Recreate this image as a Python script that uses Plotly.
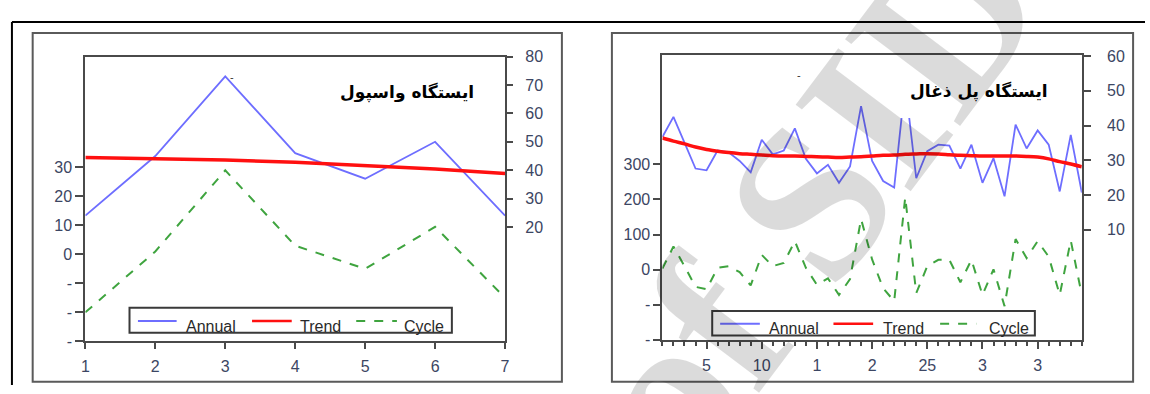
import plotly.graph_objects as go

W, H = 1150, 394

# Station 1 (Vaspool)
years_a = [1, 2, 3, 4, 5, 6, 7]
annual_a = [24, 45, 73, 46, 37, 50, 24]
trend_a = [44.5, 44.2, 43.6, 42.8, 41.6, 40.4, 38.8]
cycle_a = [-20, 1, 29, 3, -5, 9.5, -15]

# Station 2 (Pol-e Zoghal)
years_b = list(range(1, 40))
annual_b = [36.7, 42.5, 35.1, 27.6, 27.1, 32.8, 32.3, 29.8, 26.5, 35.9,
            31.7, 32.8, 39.2, 30.4, 26.2, 28.7, 23.5, 28.2, 45.6, 29.8,
            24.0, 22.1, 52.2, 24.8, 32.6, 34.5, 34.2, 27.6, 34.5, 23.5,
            30.6, 19.6, 40.3, 33.4, 38.6, 34.5, 21.0, 37.3, 20.7]
trend_b = [36.4, 35.5, 34.7, 33.8, 33.1, 32.6, 32.2, 31.9, 31.7, 31.5,
           31.3, 31.2, 31.2, 31.1, 31.0, 30.9, 30.8, 30.9, 31.0, 31.2,
           31.4, 31.5, 31.7, 31.8, 31.9, 31.8, 31.6, 31.4, 31.3, 31.2,
           31.2, 31.2, 31.2, 31.1, 30.9, 30.4, 29.6, 28.9, 28.1]
cycle_b = [3, 66, 10, -49, -56, 5, 10, -7, -45, 42,
           10, 19, 81, 5, -43, -25, -72, -27, 144, 29,
           -53, -90, 206, -67, 10, 28, 28, -36, 28, -72,
           1, -104, 87, 33, 81, 37, -72, 83, -72]

# Axis ticks
left_a_vals = [-30, -20, -10, 0, 10, 20, 30]
left_a_text = ["-", "-", "-", "0", "10", "20", "30"]
right_a_vals = [20, 30, 40, 50, 60, 70, 80]
left_b_vals = [-200, -100, 0, 100, 200, 300]
left_b_text = ["-", "-", "0", "100", "200", "300"]
right_b_vals = [10, 20, 30, 40, 50, 60]
x_b_vals = [5, 10, 15, 20, 25, 30, 35]
x_b_text = ["5", "10", "1", "2", "25", "3", "3"]

titles = ["ایستگاه واسپول", "ایستگاه پل ذغال"]
series_names = ["Annual", "Trend", "Cycle"]

BLUE = "#6e6eff"
RED = "#ff1010"
GREEN = "#3fa43f"
TICK_COLOR = "#3c4663"
FRAME = "#4a4a4a"
tick_font = dict(family="Liberation Sans", size=16, color=TICK_COLOR)


def px(x):
    return x / W


def py(y):
    return 1 - y / H


fig = go.Figure()

# Panel A traces
fig.add_trace(go.Scatter(x=years_a, y=cycle_a, name="Cycle", mode="lines",
                         line=dict(color=GREEN, width=2, dash="dash"),
                         xaxis="x", yaxis="y", showlegend=False))
fig.add_trace(go.Scatter(x=years_a, y=annual_a, name="Annual", mode="lines",
                         line=dict(color=BLUE, width=1.8),
                         xaxis="x", yaxis="y2", showlegend=False))
fig.add_trace(go.Scatter(x=years_a, y=trend_a, name="Trend", mode="lines",
                         line=dict(color=RED, width=3.5),
                         xaxis="x", yaxis="y2", showlegend=False))

# Panel B traces
fig.add_trace(go.Scatter(x=years_b, y=cycle_b, name="Cycle", mode="lines",
                         line=dict(color=GREEN, width=2, dash="dash"),
                         xaxis="x2", yaxis="y3", showlegend=False))
fig.add_trace(go.Scatter(x=years_b, y=annual_b, name="Annual", mode="lines",
                         line=dict(color=BLUE, width=1.8),
                         xaxis="x2", yaxis="y4", showlegend=False))
fig.add_trace(go.Scatter(x=years_b, y=trend_b, name="Trend", mode="lines",
                         line=dict(color=RED, width=3.5, shape="spline"),
                         xaxis="x2", yaxis="y4", showlegend=False))

common = dict(showgrid=False, zeroline=False, showline=True, linecolor=FRAME,
              linewidth=2, ticks="outside", tickcolor=FRAME, tickwidth=2,
              tickfont=tick_font)

fig.update_layout(
    width=W, height=H,
    margin=dict(l=0, r=0, t=0, b=0),
    paper_bgcolor="white", plot_bgcolor="white",
    showlegend=False,
    xaxis=dict(domain=[px(82), px(505)], anchor="y", range=[1, 7],
               tickvals=years_a, ticklen=6, mirror=True,
               ticklabelstandoff=4, **common),
    yaxis=dict(domain=[py(348.3), py(50.7)], anchor="x", range=[-30, 68.3],
               tickvals=left_a_vals, ticktext=left_a_text, ticklen=8,
               mirror=True, ticklabelstandoff=0, **common),
    yaxis2=dict(overlaying="y", side="right", anchor="x",
                range=[-20.2, 80], tickvals=right_a_vals, ticklen=7,
                showgrid=False, zeroline=False, showline=False,
                ticks="outside", tickcolor=FRAME, tickwidth=2,
                tickfont=tick_font, ticklabelstandoff=9),
    xaxis2=dict(domain=[px(663.6), px(1086.3)], anchor="y3", range=[1, 39],
                tickvals=x_b_vals, ticktext=x_b_text, ticklen=7, mirror=True,
                ticklabelstandoff=3,
                minor=dict(dtick=1, tick0=0, ticks="outside", ticklen=4,
                           tickcolor=FRAME, tickwidth=1.5),
                **common),
    yaxis3=dict(domain=[py(346.8), py(49.3)], anchor="x2", range=[-200, 611],
                tickvals=left_b_vals, ticktext=left_b_text, ticklen=7,
                mirror=True, ticklabelstandoff=0, **common),
    yaxis4=dict(overlaying="y3", side="right", anchor="x2",
                range=[-21.8, 60.3], tickvals=right_b_vals, ticklen=8,
                showgrid=False, zeroline=False, showline=False,
                ticks="outside", tickcolor=FRAME, tickwidth=2,
                tickfont=tick_font, ticklabelstandoff=13),
)

shapes = []
annotations = []

# Page border lines
shapes.append(dict(type="line", xref="paper", yref="paper",
                   x0=px(8), x1=1, y0=py(14.7), y1=py(14.7),
                   line=dict(color="black", width=2)))
shapes.append(dict(type="line", xref="paper", yref="paper",
                   x0=px(8), x1=px(8), y0=py(14.7), y1=0,
                   line=dict(color="black", width=2)))

# Panel frames
for (x0, x1) in [(28.9, 562.3), (612.7, 1138)]:
    shapes.append(dict(type="rect", xref="paper", yref="paper",
                       x0=px(x0), x1=px(x1), y0=py(390.7), y1=py(26),
                       line=dict(color="#5a5a5a", width=2)))

# White label box behind the second title
shapes.append(dict(type="rect", xref="paper", yref="paper", layer="above",
                   x0=px(900), x1=px(1062), y0=py(115), y1=py(58),
                   fillcolor="white", line=dict(width=0)))

# Watermark
annotations.append(dict(text="<b>of SID</b>", xref="paper", yref="paper",
                        x=px(815), y=py(200), xanchor="center",
                        yanchor="middle", showarrow=False, textangle=-53,
                        font=dict(family="Liberation Serif", size=220,
                                  color="rgba(0,0,0,0.14)")))

# Titles
for text, cx, cy in [(titles[0], 406, 88), (titles[1], 983, 87)]:
    annotations.append(dict(text="<b>" + text + "</b>", xref="paper",
                            yref="paper", x=px(cx), y=py(cy),
                            xanchor="center", yanchor="middle",
                            showarrow=False,
                            font=dict(family="DejaVu Sans", size=17,
                                      color="black")))

# Stray marks near the tops
for cx, cy in [(230, 72), (801, 70)]:
    annotations.append(dict(text="-", xref="paper", yref="paper",
                            x=px(cx), y=py(cy), xanchor="center",
                            yanchor="middle", showarrow=False,
                            font=dict(family="Liberation Sans", size=11,
                                      color="#333")))

# Legends
legend_specs = [
    dict(box=(126.5, 313.3, 451.4, 339.3), ly=327, ty=333,
         samples=[(135, 174), (250, 290), (355, 396)],
         labels=[181, 296, 401]),
    dict(box=(713.8, 316.7, 1039, 342.3), ly=330, ty=335,
         samples=[(721.8, 761.8), (836, 876), (943.5, 980)],
         labels=[769, 883.5, 990.8]),
]
sample_styles = [dict(color=BLUE, width=2),
                 dict(color=RED, width=2.5),
                 dict(color=GREEN, width=2, dash="dash")]
for spec in legend_specs:
    bx0, by0, bx1, by1 = spec["box"]
    shapes.append(dict(type="rect", xref="paper", yref="paper", layer="above",
                       x0=px(bx0), x1=px(bx1), y0=py(by1), y1=py(by0),
                       line=dict(color="#3a3a3a", width=2)))
    for (sx0, sx1), style in zip(spec["samples"], sample_styles):
        shapes.append(dict(type="line", xref="paper", yref="paper",
                           layer="above", x0=px(sx0), x1=px(sx1),
                           y0=py(spec["ly"]), y1=py(spec["ly"]), line=style))
    for name, lx in zip(series_names, spec["labels"]):
        annotations.append(dict(text=name, xref="paper", yref="paper",
                                x=px(lx), y=py(spec["ty"]), xanchor="left",
                                yanchor="middle", showarrow=False,
                                font=dict(family="Liberation Sans", size=16,
                                          color="#2a2a2a")))

fig.update_layout(shapes=shapes, annotations=annotations)
fig.write_html("out.html")
